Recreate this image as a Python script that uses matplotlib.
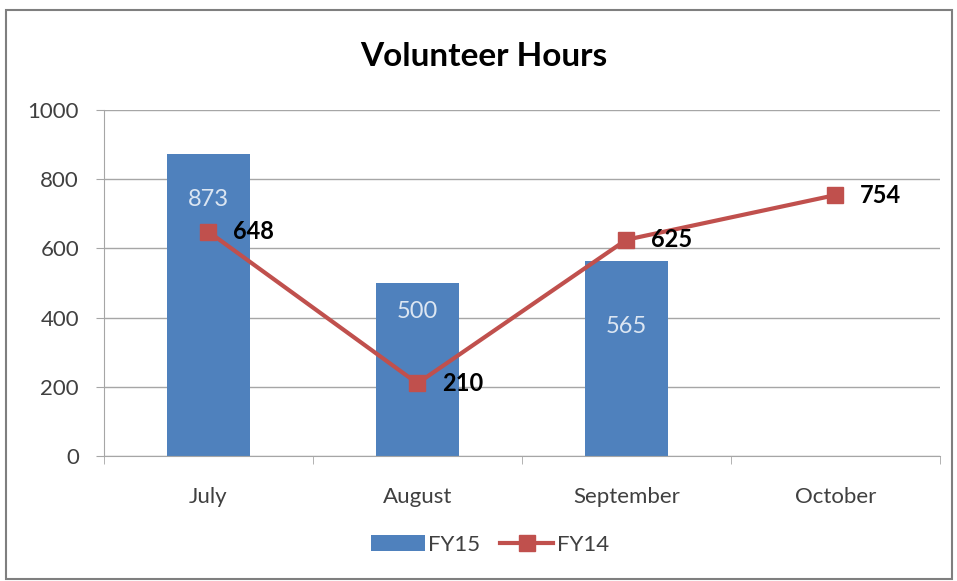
import matplotlib
matplotlib.use("Agg")
from matplotlib import pyplot as plt
from matplotlib.patches import Rectangle
import numpy as np

plt.rcParams['font.family'] = ['Lato', 'DejaVu Sans']

months = ['July', 'August', 'September', 'October']
fy15 = [873, 500, 565, None]
fy14 = [648, 210, 625, 754]

bar_color = '#4F81BD'
line_color = '#C0504D'

fig = plt.figure(figsize=(9.57, 5.81), dpi=100)
ax = fig.add_axes([0.1087, 0.2151, 0.8733, 0.5956])

x = np.arange(len(months))
bx = [i for i, v in zip(x, fy15) if v is not None]
bv = [v for v in fy15 if v is not None]
bars = ax.bar(bx, bv, width=0.4, color=bar_color, label='FY15', zorder=2)
line, = ax.plot(x, fy14, color=line_color, marker='s', markersize=12,
                linewidth=3, label='FY14', zorder=3)

# bar labels (white, inside near top)
inner_off = [-46, -28, -66]
for xi, v, off in zip(bx, bv, inner_off):
    ax.annotate(str(v), (xi, v), xytext=(0, off), textcoords='offset pixels',
                ha='center', va='center', color='#DCE6F2', fontsize=17)

# line labels (bold, right of marker)
for xi, v in zip(x, fy14):
    ax.annotate(str(v), (xi, v), xytext=(25, 0), textcoords='offset pixels',
                ha='left', va='center', color='black', fontsize=17,
                fontweight='bold')

ax.set_xlim(-0.5, 3.5)
ax.set_ylim(0, 1000)
ax.set_yticks(range(0, 1001, 200))
ax.yaxis.grid(True, color='#A6A6A6', linewidth=1)
ax.set_axisbelow(True)
ax.tick_params(axis='y', labelsize=16, colors='#404040', length=6,
               color='#A6A6A6', pad=12)
ax.set_xticks(x)
ax.set_xticklabels(months, fontsize=16, color='#404040')
ax.tick_params(axis='x', length=0, pad=22)
ax.set_xticks(np.arange(-0.5, 3.6, 1), minor=True)
ax.tick_params(axis='x', which='minor', length=6, color='#A6A6A6')
for s in ['top', 'right']:
    ax.spines[s].set_visible(False)
ax.spines['left'].set_color('#A6A6A6')
ax.spines['bottom'].set_color('#A6A6A6')

fig.text(0.506, 0.902, 'Volunteer Hours', ha='center', va='center',
         fontsize=24, fontweight='bold', color='black')

leg = fig.legend([bars, line], ['FY15', 'FY14'], loc='center',
                 bbox_to_anchor=(0.512, 0.062), ncol=2,
                 frameon=False, fontsize=16, handlelength=2.4,
                 columnspacing=0.9, handletextpad=0.15)
for t in leg.get_texts():
    t.set_color('#404040')

fig.patches.append(Rectangle((6 / 957, 2 / 581), 946 / 957, 569 / 581,
                             transform=fig.transFigure, fill=False,
                             edgecolor='#7F7F7F', linewidth=1.5))

fig.savefig('out.png', dpi=100)
